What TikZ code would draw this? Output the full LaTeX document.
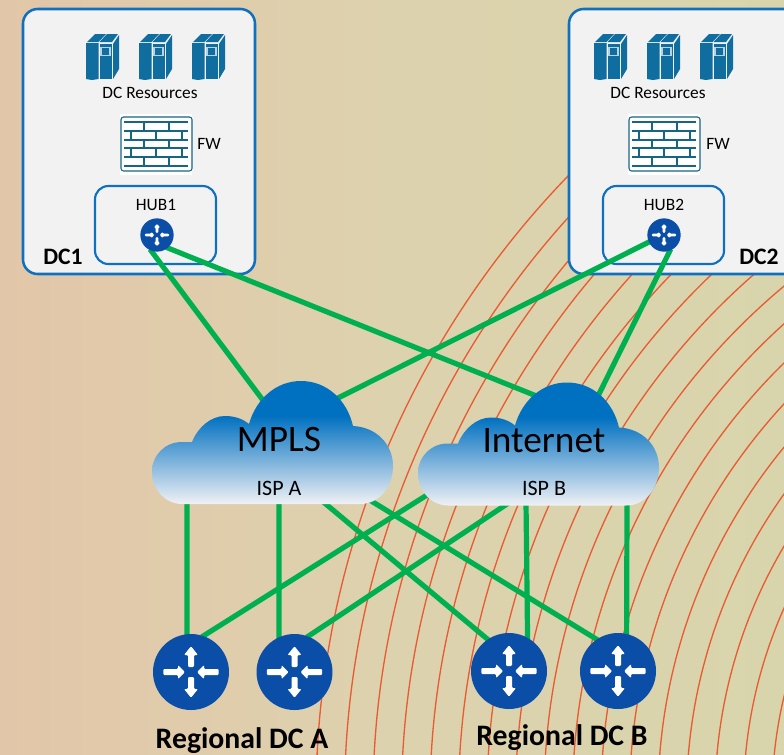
\documentclass[tikz,border=0pt]{standalone}
\usepackage{fontspec}
\setmainfont{Carlito}
\usetikzlibrary{positioning}
\definecolor{boxblue}{HTML}{1070C0}
\definecolor{routerblue}{HTML}{0B4EA8}
\definecolor{linkgreen}{HTML}{00B050}
\definecolor{arcred}{HTML}{E85C34}
\definecolor{serverteal}{HTML}{0F6E9F}
\definecolor{wallteal}{HTML}{156585}
\definecolor{cloudblue}{HTML}{0070C0}
\definecolor{cloudpale}{HTML}{F0F1F5}
\definecolor{sandleft}{HTML}{E2C6A9}
\definecolor{sandmid}{HTML}{DDD2AE}
\definecolor{sandright}{HTML}{D8D5AC}
\pgfdeclarelayer{backdrop}
\pgfdeclarelayer{links}
\pgfsetlayers{backdrop,links,main}
\pgfdeclareverticalshading{cloudfade}{100bp}{color(0bp)=(cloudpale); color(25bp)=(cloudpale); color(61bp)=(cloudblue); color(100bp)=(cloudblue)}
\tikzset{x=0.75pt, y=-0.75pt, % one unit is one pixel of the reference
dcbox/.style={draw=boxblue, line width=1.9pt, fill=black!5, rounded corners=11pt},
hubbox/.style={draw=boxblue, line width=1.6pt, rounded corners=10pt},
router/.style={circle, fill=routerblue, inner sep=0pt, minimum size=57pt},
smallrouter/.style={router, minimum size=25pt},
link/.style={draw=linkgreen, line width=3.9pt, shorten <=-1.5pt, shorten >=-1.5pt},
tiny label/.style={inner sep=0pt, font=\fontsize{13}{15}\selectfont},
isp label/.style={inner sep=0pt, font=\fontsize{16.5}{18}\selectfont},
cloud label/.style={inner sep=0pt, font=\fontsize{28}{30}\selectfont},
big label/.style={inner sep=0pt, font=\fontsize{22.3}{24}\selectfont\bfseries},
dc label/.style={inner sep=0pt, font=\fontsize{17.7}{19}\selectfont\bfseries},
pics/routerarrows/.style={code={
  \foreach \a in {0,180} {
    \fill[white, rounded corners=0.8pt, rotate=\a] (-3,-5) -- (-3,-17) -- (-7,-17) -- (0,-25.7) -- (7,-17) -- (3,-17) -- (3,-5) -- cycle;
    \fill[white, rounded corners=0.8pt, rotate=\a] (-27.7,-3) -- (-13,-3) -- (-13,-7) -- (-6,0) -- (-13,7) -- (-13,3) -- (-27.7,3) -- cycle;
  }
}},
pics/dcserver/.style={code={
  \fill[serverteal] (0,9) -- (12.5,9) -- (12.5,45) -- (6,46) -- (0,45) -- cycle;
  \fill[serverteal] (13.5,10) rectangle (26,45);
  \fill[serverteal] (27,10) -- (33,1) -- (33,35) -- (27,45) -- cycle;
  \fill[serverteal] (1,8) -- (9,0) -- (20,0) -- (12.5,8) -- cycle;
  \fill[serverteal] (13.5,8) -- (21,0) -- (32,0) -- (26,8) -- cycle;
  \draw[white!70!serverteal, line width=0.8pt] (15,13.5) rectangle (24,21.5);
}},
pics/firewall/.style={code={
  \fill[white] (-1,-3) rectangle (71,58);
  \draw[wallteal, line width=0.8pt, rounded corners=2pt] (0,0) rectangle (71,54);
  \foreach \y in {5,14,22.5,31,40,48.5}
    \draw[wallteal, line width=1.5pt] (3,\y) -- (67,\y);
  \foreach \y in {5,22.5,40} {
    \draw[wallteal, line width=1.5pt] (22.5,\y) -- ++(0,9);
    \draw[wallteal, line width=1.5pt] (48,\y) -- ++(0,9);
  }
  \foreach \y in {14,31} {
    \draw[wallteal, line width=1.5pt] (10,\y) -- ++(0,9);
    \draw[wallteal, line width=1.5pt] (35,\y) -- ++(0,9);
    \draw[wallteal, line width=1.5pt] (60.5,\y) -- ++(0,9);
  }
}},
pics/ispcloud/.style={code={
  \shade[shading=cloudfade] (30,123) .. controls (13,123) and (0,108) .. (0,91)
    .. controls (0,74) and (13,61) .. (30,61) .. controls (33,61) and (37,61) .. (40,61)
    .. controls (46,46) and (59,35) .. (73,35) .. controls (83,35) and (91,38) .. (97,43)
    .. controls (104,18) and (124,0) .. (149,0) .. controls (175,0) and (195,19) .. (201,45)
    .. controls (224,46) and (241,63) .. (241,85) .. controls (241,105) and (228,123) .. (208,123) -- cycle;
}},
}
\begin{document}
\begin{tikzpicture}
  \useasboundingbox (0,0) rectangle (784,754);
  % routers and clouds
  \pic at (152,381) {ispcloud};
  \pic at (418,382.5) {ispcloud};
  \node[smallrouter] (hubA) at (157,235) {};
  \node[smallrouter] (hubB) at (664,235) {};
  \node[router] (regA1) at (191,672) {};
  \node[router] (regA2) at (294.5,672) {};
  \node[router] (regB1) at (509,671) {};
  \node[router] (regB2) at (618,671) {};
  \foreach \r in {regA1,regA2,regB1,regB2}
    \pic at (\r) {routerarrows};
  \foreach \r in {hubA,hubB}
    \pic[scale=0.44] at (\r) {routerarrows};
  % labels
  \node[cloud label] (mpls) at (279,440) {MPLS};
  \node[cloud label] (inet) at (544,441) {Internet};
  \node[isp label] (ispA) at (279,488) {ISP A};
  \node[isp label] (ispB) at (544,488) {ISP B};
  \node[tiny label] (resA) at (150,93) {DC Resources};
  \node[tiny label] (resB) at (658,93) {DC Resources};
  \node[tiny label] (fwA) at (209,144) {FW};
  \node[tiny label] (fwB) at (718,144) {FW};
  \node[tiny label] (hubnameA) at (156,205) {HUB1};
  \node[tiny label] (hubnameB) at (664,205) {HUB2};
  \node[dc label] (dcA) at (63,257) {DC1};
  \node[dc label] (dcB) at (759,257) {DC2};
  \node[big label] (regnameA) at (242,740.5) {Regional DC A};
  \node[big label] (regnameB) at (562,738) {Regional DC B};
  % cloud edges where the links land
  \coordinate (mplsT1) at (262,399);
  \coordinate (mplsT2) at (338,398);
  \coordinate (inetT1) at (534,395);
  \coordinate (inetT2) at (599,394);
  \coordinate (mplsB1) at (187,500);
  \coordinate (mplsB2) at (279,500);
  \coordinate (mplsB3) at (321,500);
  \coordinate (mplsB4) at (368,499);
  \coordinate (inetB1) at (427,495);
  \coordinate (inetB2) at (510,502);
  \coordinate (inetB3) at (526,502);
  \coordinate (inetB4) at (627,502);
  \begin{pgfonlayer}{links}
    \draw[link] (hubA.-110) -- (mplsT1);
    \draw[link] (hubA.-50) -- (inetT1);
    \draw[link] (hubB.205) -- (mplsT2);
    \draw[link] (hubB.-70) -- (inetT2);
    \draw[link] (mplsB1) -- (regA1.96);
    \draw[link] (mplsB2) -- (regA2.114);
    \draw[link] (mplsB3) -- (regB1.124);
    \draw[link] (mplsB4) -- (regB2.124);
    \draw[link] (inetB1) -- (regA1.71);
    \draw[link] (inetB2) -- (regA2.69);
    \draw[link] (inetB3) -- (regB1.61);
    \draw[link] (inetB4) -- (regB2.77);
  \end{pgfonlayer}
  \begin{pgfonlayer}{backdrop}
    \clip (0,0) rectangle (784,754);
    \shade[left color=sandleft, right color=sandright, middle color=sandmid] (0,0) rectangle (784,754);
    \foreach \i in {0,...,20}
      \draw[arcred, line width=1pt] (1212,799) circle [radius=896-28.5*\i];
    \draw[dcbox] (23,9) rectangle (255,274);
    \draw[dcbox] (569,9) rectangle (810,274);
    \draw[hubbox] (95,186) rectangle (216,264);
    \draw[hubbox] (603,186) rectangle (724,264);
    \foreach \x in {86,139,192,594,647,700}
      \pic at (\x,34) {dcserver};
    \pic at (121,117) {firewall};
    \pic at (629,117) {firewall};
  \end{pgfonlayer}
\end{tikzpicture}
\end{document}
